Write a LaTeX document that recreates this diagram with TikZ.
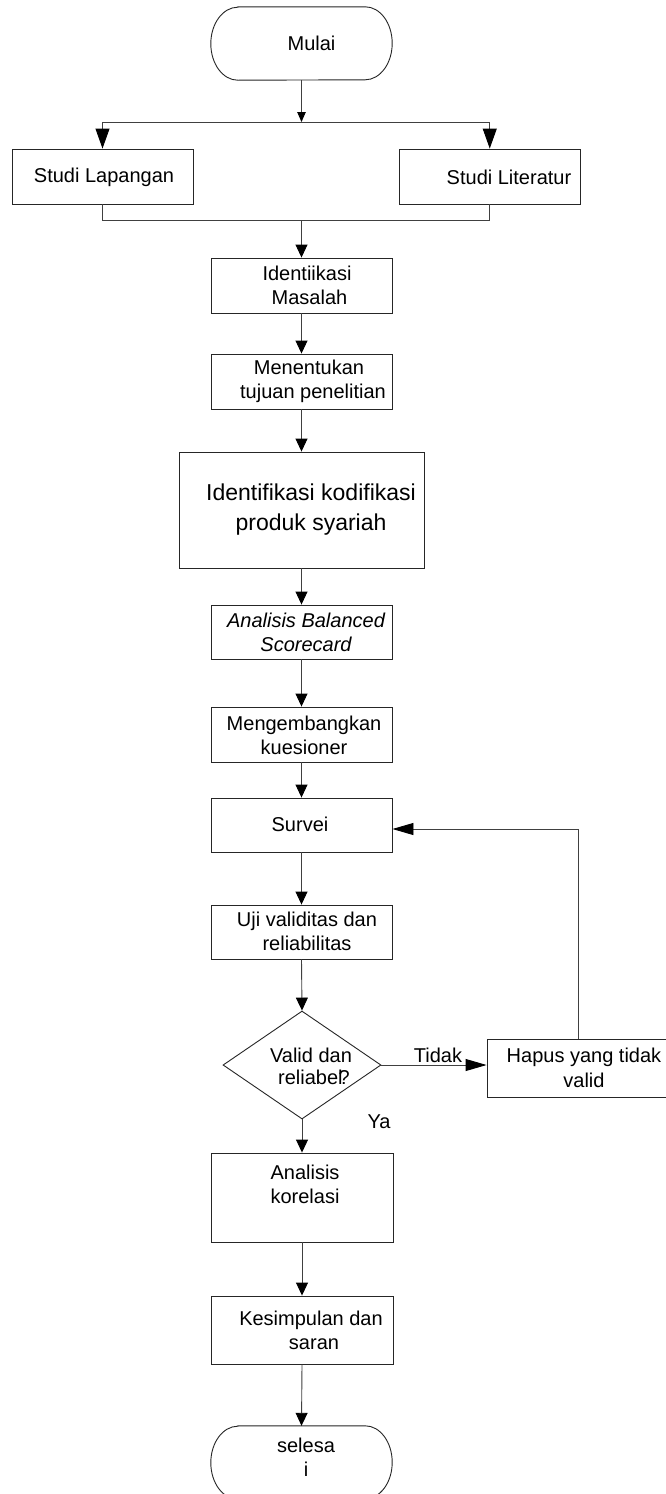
\documentclass[tikz,border=0pt]{standalone}
\usepackage{fontspec}
\setmainfont{Liberation Sans}
\usetikzlibrary{arrows.meta,calc,shapes.geometric}
\begin{document}
\begin{tikzpicture}[x=1pt,y=1pt,
  ln/.style={draw=black!85,line width=0.9pt},
  box/.style={ln,rectangle,inner sep=0pt},
  term/.style={rectangle,inner sep=0pt,draw=none},
  txt/.style={inner sep=0pt,align=center,font=\fontsize{20}{24}\selectfont},
  conn/.style={draw=black!75,line width=0.9pt},
  arr/.style={conn,-{Triangle[length=13pt,width=12pt,color=black]}},
  arrL/.style={conn,-{Triangle[length=20pt,width=14pt,color=black]}},
  arrS/.style={conn,-{Triangle[length=10pt,width=8.5pt,color=black]}},
  arrH/.style={conn,-{Triangle[length=21pt,width=12pt,color=black]}}
]
\useasboundingbox (0,0) rectangle (666,-1494);
\clip (0,0) rectangle (666,-1494);
\fill[white] (0,0) rectangle (666,-1494);

% terminals
\node[term,minimum width=181pt,minimum height=73pt] (mulai) at (301.5,-43.5) {};
\draw[ln] ($(mulai.north west)+(27,0)$) -- ($(mulai.north east)+(-27,0)$)
  arc[start angle=90,end angle=-90,x radius=27,y radius=36.5]
  -- ($(mulai.south west)+(27,0)$)
  arc[start angle=270,end angle=90,x radius=27,y radius=36.5] -- cycle;
\node[txt] (mulai-t) at (311.5,-43) {Mulai};

\node[term,minimum width=181pt,minimum height=73pt] (selesai) at (301.5,-1462.5) {};
\draw[ln] ($(selesai.north west)+(27,0)$) -- ($(selesai.north east)+(-27,0)$)
  arc[start angle=90,end angle=-90,x radius=27,y radius=36.5]
  -- ($(selesai.south west)+(27,0)$)
  arc[start angle=270,end angle=90,x radius=27,y radius=36.5] -- cycle;
\node[txt] (selesai-t) at (306,-1457) {selesa\\i};

% boxes
\node[box,minimum width=181pt,minimum height=55pt] (lap) at (102.5,-176.5) {};
\node[txt] (lap-t) at (104,-177) {Studi Lapangan};
\node[box,minimum width=181.5pt,minimum height=55pt] (lit) at (489.75,-176.5) {};
\node[txt] (lit-t) at (509,-177) {Studi Literatur};

\node[box,minimum width=181pt,minimum height=55pt] (ident) at (301.5,-285.5) {};
\node[txt] (ident-t) at (307,-285) {Identiikasi\\\hspace*{5pt}Masalah};
\node[box,minimum width=181pt,minimum height=55pt] (tujuan) at (301.5,-381.5) {};
\node[txt] (tujuan-t) at (309,-381) {Menentukan\\\hspace*{8pt}tujuan penelitian};
\node[box,minimum width=245pt,minimum height=116pt] (kodif) at (301.5,-510) {};
\node[txt,font=\fontsize{23}{30}\selectfont] (kodif-t) at (311,-510) {Identifikasi kodifikasi\\produk syariah};
\node[box,minimum width=181pt,minimum height=54pt] (bsc) at (301.5,-632) {};
\node[txt,font=\fontsize{20}{24}\selectfont\itshape] (bsc-t) at (306,-632) {Analisis Balanced\\Scorecard};
\node[box,minimum width=181pt,minimum height=55pt] (kues) at (301.5,-734.5) {};
\node[txt] (kues-t) at (304,-735) {Mengembangkan\\kuesioner};
\node[box,minimum width=181pt,minimum height=54pt] (survei) at (301.5,-825) {};
\node[txt] (survei-t) at (300,-824) {Survei};
\node[box,minimum width=181pt,minimum height=54pt] (uji) at (301.5,-932) {};
\node[txt] (uji-t) at (307,-931) {Uji validitas dan\\reliabilitas};

\node[ln,diamond,minimum width=158pt,minimum height=108pt,inner sep=0pt] (valid) at (302,-1065) {};
\node[txt,font=\fontsize{20}{22}\selectfont] (valid-t) at (311,-1066) {Valid dan\\\hspace*{6pt}reliabel\kern-4pt?};

\node[box,minimum width=194pt,minimum height=58pt] (hapus) at (584,-1068) {};
\node[txt,font=\fontsize{20}{25}\selectfont] (hapus-t) at (584,-1068) {Hapus yang tidak\\valid};

\node[box,minimum width=182pt,minimum height=89pt] (korel) at (302,-1197.5) {};
\node[txt] (korel-t) at (305,-1184) {Analisis\\korelasi};
\node[box,minimum width=182pt,minimum height=68pt] (kesimp) at (302,-1330) {};
\node[txt] (kesimp-t) at (311,-1330) {Kesimpulan dan\\\hspace*{6pt}saran};

% labels
\node[txt] (tidak) at (438,-1055) {Tidak};
\node[txt] (ya) at (379,-1122) {Ya};

% junctions
\coordinate (j1) at (301.5,-122);
\coordinate (j2) at (301.5,-220);

% connectors
\draw[arrS] (mulai.south) -- (j1);
\draw[arrL] (j1) -| (lap.north);
\draw[arrL] (j1) -| (lit.north);
\draw[conn] (lap.south) |- (j2);
\draw[conn] (lit.south) |- (j2);
\draw[arr] (j2) -- (ident.north);
\draw[arr] (ident) -- (tujuan);
\draw[arr] (tujuan) -- (kodif);
\draw[arr] (kodif) -- (bsc);
\draw[arr] (bsc) -- (kues);
\draw[arr] (kues) -- (survei);
\draw[arr] (survei) -- (uji);
\draw[arr] (uji.south) -- (valid.north);
\draw[arrH] (valid.east) -- (valid.east -| hapus.west);
\draw[arrH] ($(hapus.north)+(-6,0)$) |- ($(survei.east)+(0,-4)$);
\draw[arr] (valid.south) -- (korel.north);
\draw[arr] (korel) -- (kesimp);
\draw[arr] (kesimp.south) -- (selesai.north);
\end{tikzpicture}
\end{document}
